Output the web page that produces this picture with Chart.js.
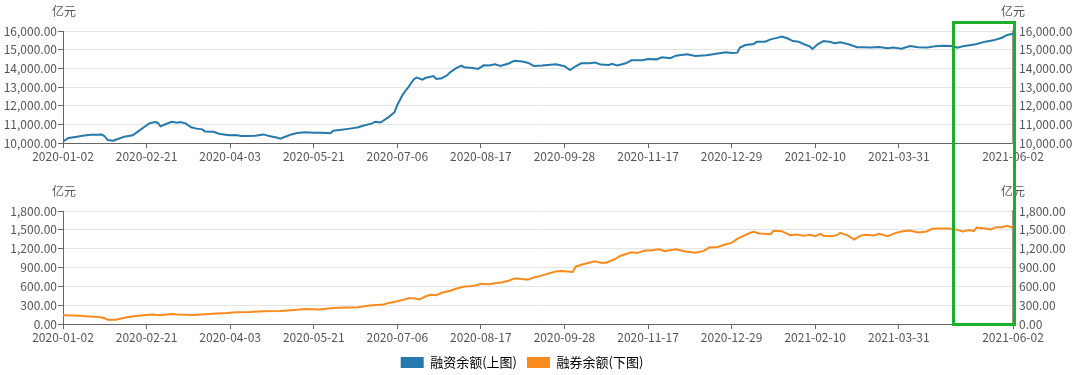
<!DOCTYPE html>
<html>
<head>
<meta charset="utf-8">
<script src="https://cdn.jsdelivr.net/npm/chart.js@4.4.1/dist/chart.umd.min.js"></script>
<style>
  body { margin: 0; width: 1080px; height: 375px; overflow: hidden; position: relative; background: #fff; }
  .box { position: absolute; left: 0; width: 1080px; }
  #mark { position: absolute; left: 952px; top: 21px; width: 58px; height: 299px; border: 3px solid #1fae2a; pointer-events: none; }
</style>
</head>
<body>
<div class="box" style="top:0;height:165px"><canvas id="marginChart"></canvas></div>
<div class="box" style="top:180px;height:199px"><canvas id="shortChart"></canvas></div>
<div id="mark"></div>
<script>
// x = trading-day number counted from 2020-01-02
const tickIdx = [0, 30, 60, 90, 120, 150, 180, 210, 240, 270, 300, 341];
const tickLabels = ["2020-01-02", "2020-02-21", "2020-04-03", "2020-05-21", "2020-07-06", "2020-08-17",
    "2020-09-28", "2020-11-17", "2020-12-29", "2021-02-10", "2021-03-31", "2021-06-02"];

// 融资余额 (亿元)
const marginDay = [0, 2, 5, 7, 10, 12, 14, 15, 16, 18, 20, 22, 25, 27, 29, 31, 33, 34, 35, 37, 39, 41, 42, 44, 46, 48, 50, 51,
    54, 56, 59, 60, 62, 64, 66, 69, 72, 74, 77, 78, 80, 82, 84, 87, 90, 93, 96, 97, 100, 103, 106, 108, 111, 112, 114,
    117, 119, 120, 122, 124, 126, 127, 129, 130, 133, 134, 136, 138, 139, 141, 143, 144, 147, 149, 151, 153, 155, 157,
    160, 162, 165, 167, 169, 172, 174, 177, 180, 182, 184, 186, 189, 191, 193, 196, 197, 199, 202, 204, 208, 210, 213,
    215, 218, 220, 222, 224, 227, 231, 235, 238, 240, 242, 243, 245, 248, 249, 252, 254, 257, 258, 260, 262, 264, 266,
    268, 269, 271, 273, 275, 277, 279, 282, 285, 287, 290, 293, 296, 298, 301, 304, 307, 310, 313, 316, 319, 321, 323,
    326, 328, 331, 334, 337, 339, 341];
const marginVal = [10090, 10270, 10340, 10390, 10440, 10440, 10460, 10350, 10160, 10120, 10230, 10340, 10410, 10620,
    10840, 11050, 11120, 11090, 10890, 11020, 11140, 11090, 11120, 11050, 10840, 10770, 10730, 10620, 10600, 10500,
    10430, 10410, 10430, 10370, 10370, 10390, 10460, 10370, 10280, 10230, 10350, 10460, 10530, 10570, 10550, 10550,
    10520, 10660, 10710, 10770, 10840, 10940, 11050, 11140, 11100,
    11400, 11650, 12040, 12610, 13000, 13430, 13500, 13390, 13480, 13590, 13430, 13470, 13640, 13790, 14000, 14150,
    14060, 14020, 13970, 14160, 14150, 14220, 14130, 14260, 14400, 14360, 14290, 14130, 14150, 14180, 14220, 14110,
    13910, 14110, 14270, 14270, 14310, 14200, 14180, 14240, 14160, 14270, 14430, 14430, 14500, 14480, 14590, 14540,
    14680, 14720, 14750, 14660, 14700, 14800, 14860, 14820, 14840, 15110, 15250, 15300, 15430, 15430, 15550, 15660,
    15700, 15610, 15460, 15430, 15290, 15180, 15040, 15300, 15460, 15430, 15340, 15390, 15290, 15130, 15130, 15110,
    15140, 15070, 15110, 15050, 15200, 15130, 15110, 15180, 15210, 15200, 15110, 15180, 15250, 15300, 15430, 15500,
    15640, 15790, 15850];

// 融券余额 (亿元)
const shortDay = [0, 4, 7, 11, 13, 15, 16, 19, 20, 23, 26, 30, 32, 35, 39, 41, 47, 51, 55, 59, 62, 67, 72, 78, 83, 87,
    92, 97, 102, 106, 110, 115, 117, 120, 122, 124, 126, 128, 130, 132, 134, 136, 139, 141, 144, 146, 148, 150, 153,
    156, 157, 160, 162, 164, 166, 167, 169, 172, 174, 177, 179, 181, 183, 184, 187, 191, 193, 195, 198, 200, 204, 206,
    209, 211, 214, 216, 220, 223, 227, 230, 232, 235, 238, 240, 242, 244, 247, 248, 250, 252, 254, 255, 258, 261, 263,
    266, 268, 270, 272, 273, 276, 278, 279, 282, 284, 286, 288, 291, 293, 296, 299, 301, 304, 307, 310, 312, 315, 318,
    320, 323, 325, 327, 328, 331, 333, 335, 337, 339, 341];
const shortVal = [139, 134, 128, 117, 112, 91, 69, 69, 80, 107, 128, 144, 150, 139, 160, 150, 144, 155, 166, 176, 187,
    192, 203, 208, 224, 240, 230, 256, 262, 267, 294, 310, 336, 363, 384, 411, 411, 390, 438, 465, 459, 497, 529, 561,
    598, 603, 614, 641, 635, 657, 657, 689, 726, 721, 710, 710, 740, 774, 801, 838, 844, 838, 828, 913, 956, 999, 977,
    977, 1031, 1084, 1143, 1132, 1170, 1170, 1191, 1159, 1191, 1159, 1137, 1164, 1218, 1228, 1271, 1292, 1356, 1399,
    1458, 1469, 1442, 1436, 1431, 1484, 1479, 1415, 1426, 1404, 1420, 1399, 1436, 1404, 1399, 1420, 1452, 1404, 1346,
    1404, 1420, 1410, 1436, 1399, 1452, 1474, 1490, 1458, 1474, 1517, 1522, 1522, 1511, 1474, 1495, 1484, 1538, 1522,
    1506, 1543, 1543, 1565, 1533];

const seriesNames = ["融资余额(上图)", "融券余额(下图)"];
const blue = "#2579ab";
const orange = "#f98b1e";
const fontFamily = "'Noto Sans CJK SC', 'Noto Sans', sans-serif";
const textColor = "#555";

const fmt = v => v.toLocaleString("en-US", { minimumFractionDigits: 2, maximumFractionDigits: 2 });

// draws the 亿元 unit above both y axes
const unitPlugin = {
    id: "unit",
    afterDraw(chart) {
        const ctx = chart.ctx;
        ctx.save();
        ctx.font = "12px " + fontFamily;
        ctx.fillStyle = textColor;
        ctx.textAlign = "center";
        ctx.textBaseline = "middle";
        const y = chart.chartArea.top - 20;
        ctx.fillText("亿元", chart.chartArea.left + 1, y);
        ctx.fillText("亿元", chart.chartArea.right, y);
        ctx.restore();
    },
};

// nudge the legend a little left, as in the picture
const legendShift = {
    id: "legendShift",
    afterLayout(chart) {
        if (chart.legend && chart.options.plugins.legend.display) {
            chart.legend.left -= 18;
            chart.legend.right -= 18;
        }
    },
};

function makeChart(id, days, vals, color, yMin, yMax, step, withLegend) {
    const ctx = document.getElementById(id).getContext("2d");
    return new Chart(ctx, {
        type: "line",
        data: {
            datasets: [
                {
                    label: withLegend ? seriesNames[1] : seriesNames[0],
                    data: days.map((d, i) => ({ x: d, y: vals[i] })),
                    borderColor: color,
                    backgroundColor: color,
                    borderWidth: 2,
                    pointRadius: 0,
                    tension: 0,
                    yAxisID: "y",
                },
            ],
        },
        options: {
            responsive: true,
            maintainAspectRatio: false,
            animation: false,
            layout: { padding: { top: 31, left: 0, right: 0, bottom: 0 } },
            plugins: {
                tooltip: { enabled: false },
                legend: {
                    display: withLegend,
                    position: "bottom",
                    onClick: null,
                    labels: {
                        boxWidth: 23,
                        boxHeight: 11,
                        padding: 10,
                        color: "#444",
                        font: { family: fontFamily, size: 13 },
                        generateLabels: () => [
                            { text: seriesNames[0], fillStyle: blue, strokeStyle: blue, lineWidth: 0, hidden: false },
                            { text: seriesNames[1], fillStyle: orange, strokeStyle: orange, lineWidth: 0, hidden: false },
                        ],
                    },
                },
            },
            scales: {
                x: {
                    type: "linear",
                    min: 0,
                    max: 341,
                    afterBuildTicks: scale => { scale.ticks = tickIdx.map(v => ({ value: v })); },
                    afterFit: scale => { scale.height = 22; },
                    grid: { drawOnChartArea: false, drawTicks: true, tickLength: 5, tickColor: "#666" },
                    border: { color: "#666", width: 1 },
                    ticks: {
                        autoSkip: false,
                        maxRotation: 0,
                        padding: 1,
                        color: textColor,
                        font: { family: fontFamily, size: 12 },
                        callback: v => tickLabels[tickIdx.indexOf(v)],
                    },
                },
                y: {
                    position: "left",
                    min: yMin,
                    max: yMax,
                    afterFit: scale => { scale.width = 63; },
                    grid: { color: "#e4e4e4", lineWidth: 1, drawTicks: true, tickLength: 5, tickColor: "#666" },
                    border: { color: "#666", width: 1 },
                    ticks: { stepSize: step, padding: 1, color: textColor, font: { family: fontFamily, size: 12 }, callback: fmt },
                },
                y2: {
                    position: "right",
                    min: yMin,
                    max: yMax,
                    afterFit: scale => { scale.width = 67; },
                    grid: { drawOnChartArea: false, drawTicks: false },
                    border: { color: "#999", width: 3 },
                    ticks: { stepSize: step, padding: 6, color: textColor, font: { family: fontFamily, size: 12 }, callback: fmt },
                },
            },
        },
        plugins: [unitPlugin, legendShift],
    });
}

makeChart("marginChart", marginDay, marginVal, blue, 10000, 16000, 1000, false);
makeChart("shortChart", shortDay, shortVal, orange, 0, 1800, 300, true);
</script>
</body>
</html>
